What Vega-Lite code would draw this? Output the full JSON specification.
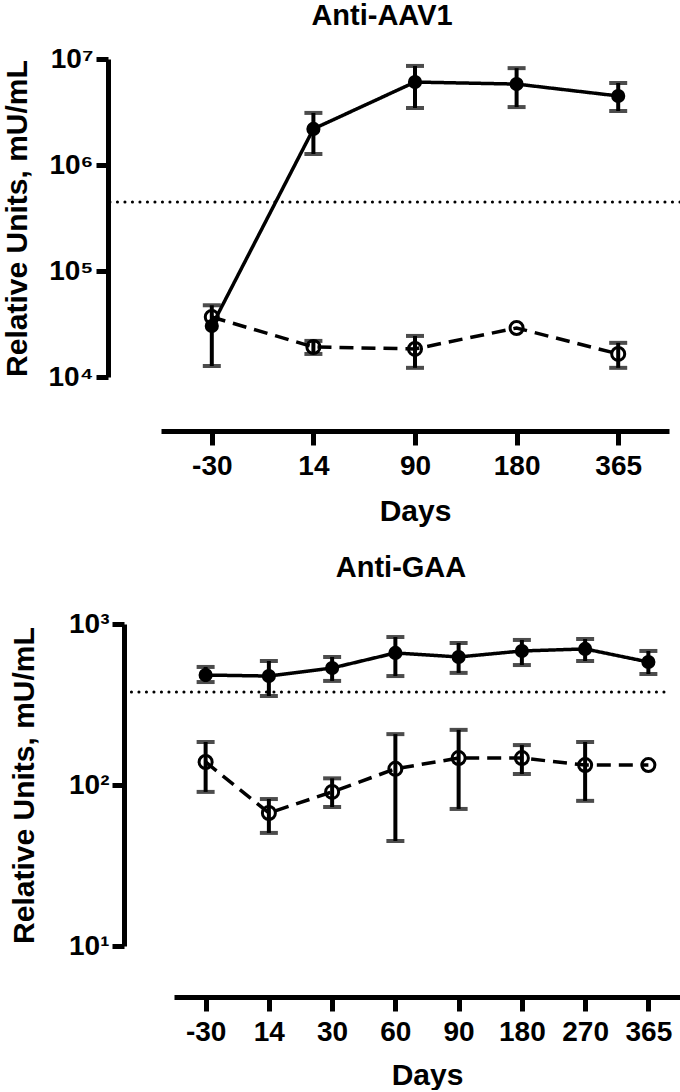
{
  "$schema": "https://vega.github.io/schema/vega-lite/v6.json",
  "padding": {"left": 2, "top": 2, "right": 0, "bottom": 0},
  "background": "white",
  "spacing": 247,
  "bounds": "flush",
  "center": true,
  "config": {
    "view": {"stroke": null},
    "font": "Liberation Sans",
    "axis": {
      "domainColor": "black", "tickColor": "black", "labelColor": "black", "titleColor": "black",
      "domainWidth": 5, "tickWidth": 5, "grid": false,
      "labelFont": "Liberation Sans", "labelFontWeight": "bold", "labelFontSize": 28,
      "titleFont": "Liberation Sans", "titleFontWeight": "bold", "titleFontSize": 30
    },
    "title": {"font": "Liberation Sans", "fontWeight": "bold", "fontSize": 29, "color": "black"}
  },
  "vconcat": [
    {
      "title": {"text": "Anti-AAV1", "offset": 14, "dx": -12},
      "width": 572,
      "height": 318,
      "data": {"values": [
        {"day": "-30", "group": "Group 1", "mean": 30300, "lo": 12700, "hi": 47500},
        {"day": "14", "group": "Group 1", "mean": 2190000, "lo": 1270000, "hi": 3100000},
        {"day": "90", "group": "Group 1", "mean": 6060000, "lo": 3450000, "hi": 8600000},
        {"day": "180", "group": "Group 1", "mean": 5800000, "lo": 3520000, "hi": 8200000},
        {"day": "365", "group": "Group 1", "mean": 4480000, "lo": 3230000, "hi": 5940000},
        {"day": "-30", "group": "Group 2", "mean": 36800, "lo": null, "hi": null},
        {"day": "14", "group": "Group 2", "mean": 19200, "lo": 16500, "hi": 21900},
        {"day": "90", "group": "Group 2", "mean": 18400, "lo": 12200, "hi": 24400},
        {"day": "180", "group": "Group 2", "mean": 29000, "lo": null, "hi": null},
        {"day": "365", "group": "Group 2", "mean": 16500, "lo": 12200, "hi": 21000}
      ]},
      "encoding": {
        "x": {
          "field": "day", "type": "ordinal",
          "scale": {"type": "point", "domain": ["-30", "14", "90", "180", "365"], "range": [53, 561]},
          "axis": {"title": "Days", "labelAngle": 0, "offset": 54, "tickSize": 14, "labelPadding": 7, "titlePadding": 16}
        }
      },
      "layer": [
        {
          "data": {"values": [{"threshold": 448000}]},
          "mark": {"type": "rule", "strokeDash": [0.1, 7.4], "strokeCap": "round", "strokeWidth": 3, "color": "black"},
          "encoding": {"x": null, "y": {"field": "threshold", "type": "quantitative", "scale": {"type": "log", "domain": [10000, 10000000]},
            "axis": {"title": "Relative Units, mU/mL", "values": [10000, 100000, 1000000, 10000000], "tickSize": 12, "labelPadding": 3, "titlePadding": 16,
              "labelExpr": "datum.value > 5000000 ? '10⁷' : datum.value > 500000 ? '10⁶' : datum.value > 50000 ? '10⁵' : '10⁴'"}}}
        },
        {
          "transform": [{"filter": "datum.lo != null"}],
          "mark": {"type": "rule", "strokeWidth": 4, "color": "black"},
          "encoding": {
            "y": {"field": "lo", "type": "quantitative", "scale": {"type": "log", "domain": [10000, 10000000]},
              "axis": {"title": "Relative Units, mU/mL", "values": [10000, 100000, 1000000, 10000000], "tickSize": 12, "labelPadding": 3, "titlePadding": 16,
                "labelExpr": "datum.value > 5000000 ? '10⁷' : datum.value > 500000 ? '10⁶' : datum.value > 50000 ? '10⁵' : '10⁴'"}},
            "y2": {"field": "hi"}
          }
        },
        {
          "transform": [{"filter": "datum.lo != null"}],
          "mark": {"type": "tick", "size": 18, "thickness": 4, "color": "black", "orient": "horizontal"},
          "encoding": {"y": {"field": "lo", "type": "quantitative",
            "axis": {"title": "Relative Units, mU/mL", "values": [10000, 100000, 1000000, 10000000], "tickSize": 12, "labelPadding": 3, "titlePadding": 16,
              "labelExpr": "datum.value > 5000000 ? '10⁷' : datum.value > 500000 ? '10⁶' : datum.value > 50000 ? '10⁵' : '10⁴'"}}}
        },
        {
          "transform": [{"filter": "datum.hi != null"}],
          "mark": {"type": "tick", "size": 18, "thickness": 4, "color": "black", "orient": "horizontal"},
          "encoding": {"y": {"field": "hi", "type": "quantitative",
            "axis": {"title": "Relative Units, mU/mL", "values": [10000, 100000, 1000000, 10000000], "tickSize": 12, "labelPadding": 3, "titlePadding": 16,
              "labelExpr": "datum.value > 5000000 ? '10⁷' : datum.value > 500000 ? '10⁶' : datum.value > 50000 ? '10⁵' : '10⁴'"}}}
        },
        {
          "mark": {"type": "line", "strokeWidth": 3.5, "color": "black"},
          "encoding": {
            "y": {"field": "mean", "type": "quantitative",
              "axis": {"title": "Relative Units, mU/mL", "values": [10000, 100000, 1000000, 10000000], "tickSize": 12, "labelPadding": 3, "titlePadding": 16,
                "labelExpr": "datum.value > 5000000 ? '10⁷' : datum.value > 500000 ? '10⁶' : datum.value > 50000 ? '10⁵' : '10⁴'"}},
            "strokeDash": {"field": "group", "type": "nominal", "scale": {"domain": ["Group 1", "Group 2"], "range": [[1, 0], [14, 8]]}, "legend": null}
          }
        },
        {
          "transform": [{"filter": "datum.group == 'Group 1'"}],
          "mark": {"type": "point", "shape": "circle", "filled": true, "size": 200, "color": "black", "opacity": 1},
          "encoding": {"y": {"field": "mean", "type": "quantitative",
            "axis": {"title": "Relative Units, mU/mL", "values": [10000, 100000, 1000000, 10000000], "tickSize": 12, "labelPadding": 3, "titlePadding": 16,
              "labelExpr": "datum.value > 5000000 ? '10⁷' : datum.value > 500000 ? '10⁶' : datum.value > 50000 ? '10⁵' : '10⁴'"}}}
        },
        {
          "transform": [{"filter": "datum.group == 'Group 2'"}],
          "mark": {"type": "point", "shape": "circle", "filled": false, "size": 170, "strokeWidth": 3, "color": "black", "opacity": 1},
          "encoding": {"y": {"field": "mean", "type": "quantitative",
            "axis": {"title": "Relative Units, mU/mL", "values": [10000, 100000, 1000000, 10000000], "tickSize": 12, "labelPadding": 3, "titlePadding": 16,
              "labelExpr": "datum.value > 5000000 ? '10⁷' : datum.value > 500000 ? '10⁶' : datum.value > 50000 ? '10⁵' : '10⁴'"}}}
        }
      ]
    },
    {
      "title": {"text": "Anti-GAA", "offset": 27, "dx": 7},
      "width": 540,
      "height": 322,
      "data": {"values": [
        {"day": "-30", "group": "Group 1", "mean": 482, "lo": 436, "hi": 541},
        {"day": "14", "group": "Group 1", "mean": 475, "lo": 357, "hi": 589},
        {"day": "30", "group": "Group 1", "mean": 533, "lo": 443, "hi": 624},
        {"day": "60", "group": "Group 1", "mean": 661, "lo": 475, "hi": 830},
        {"day": "90", "group": "Group 1", "mean": 624, "lo": 497, "hi": 762},
        {"day": "180", "group": "Group 1", "mean": 680, "lo": 556, "hi": 796},
        {"day": "270", "group": "Group 1", "mean": 700, "lo": 589, "hi": 807},
        {"day": "365", "group": "Group 1", "mean": 581, "lo": 489, "hi": 680},
        {"day": "-30", "group": "Group 2", "mean": 139, "lo": 90.6, "hi": 185},
        {"day": "14", "group": "Group 2", "mean": 67, "lo": 50.4, "hi": 81.8},
        {"day": "30", "group": "Group 2", "mean": 90.6, "lo": 73, "hi": 110},
        {"day": "60", "group": "Group 2", "mean": 126, "lo": 44.9, "hi": 207},
        {"day": "90", "group": "Group 2", "mean": 147, "lo": 71, "hi": 220},
        {"day": "180", "group": "Group 2", "mean": 147, "lo": 117, "hi": 177},
        {"day": "270", "group": "Group 2", "mean": 133, "lo": 79.7, "hi": 185},
        {"day": "365", "group": "Group 2", "mean": 133, "lo": null, "hi": null}
      ]},
      "encoding": {
        "x": {
          "field": "day", "type": "ordinal",
          "scale": {"type": "point", "domain": ["-30", "14", "30", "60", "90", "180", "270", "365"], "range": [50, 556]},
          "axis": {"title": "Days", "labelAngle": 0, "offset": 51, "tickSize": 14, "labelPadding": 7, "titlePadding": 14}
        }
      },
      "layer": [
        {
          "data": {"values": [{"threshold": 378}]},
          "mark": {"type": "rule", "strokeDash": [0.1, 7.4], "strokeCap": "round", "strokeWidth": 3, "color": "black"},
          "encoding": {"x": null, "y": {"field": "threshold", "type": "quantitative", "scale": {"type": "log", "domain": [10, 1000]},
            "axis": {"title": "Relative Units, mU/mL", "values": [10, 100, 1000], "tickSize": 12, "labelPadding": 3, "titlePadding": 29,
              "labelExpr": "datum.value > 500 ? '10³' : datum.value > 50 ? '10²' : '10¹'"}}}
        },
        {
          "transform": [{"filter": "datum.lo != null"}],
          "mark": {"type": "rule", "strokeWidth": 4, "color": "black"},
          "encoding": {
            "y": {"field": "lo", "type": "quantitative", "scale": {"type": "log", "domain": [10, 1000]},
              "axis": {"title": "Relative Units, mU/mL", "values": [10, 100, 1000], "tickSize": 12, "labelPadding": 3, "titlePadding": 29,
                "labelExpr": "datum.value > 500 ? '10³' : datum.value > 50 ? '10²' : '10¹'"}},
            "y2": {"field": "hi"}
          }
        },
        {
          "transform": [{"filter": "datum.lo != null"}],
          "mark": {"type": "tick", "size": 18, "thickness": 4, "color": "black", "orient": "horizontal"},
          "encoding": {"y": {"field": "lo", "type": "quantitative",
            "axis": {"title": "Relative Units, mU/mL", "values": [10, 100, 1000], "tickSize": 12, "labelPadding": 3, "titlePadding": 29,
              "labelExpr": "datum.value > 500 ? '10³' : datum.value > 50 ? '10²' : '10¹'"}}}
        },
        {
          "transform": [{"filter": "datum.hi != null"}],
          "mark": {"type": "tick", "size": 18, "thickness": 4, "color": "black", "orient": "horizontal"},
          "encoding": {"y": {"field": "hi", "type": "quantitative",
            "axis": {"title": "Relative Units, mU/mL", "values": [10, 100, 1000], "tickSize": 12, "labelPadding": 3, "titlePadding": 29,
              "labelExpr": "datum.value > 500 ? '10³' : datum.value > 50 ? '10²' : '10¹'"}}}
        },
        {
          "mark": {"type": "line", "strokeWidth": 3.5, "color": "black"},
          "encoding": {
            "y": {"field": "mean", "type": "quantitative",
              "axis": {"title": "Relative Units, mU/mL", "values": [10, 100, 1000], "tickSize": 12, "labelPadding": 3, "titlePadding": 29,
                "labelExpr": "datum.value > 500 ? '10³' : datum.value > 50 ? '10²' : '10¹'"}},
            "strokeDash": {"field": "group", "type": "nominal", "scale": {"domain": ["Group 1", "Group 2"], "range": [[1, 0], [14, 8]]}, "legend": null}
          }
        },
        {
          "transform": [{"filter": "datum.group == 'Group 1'"}],
          "mark": {"type": "point", "shape": "circle", "filled": true, "size": 200, "color": "black", "opacity": 1},
          "encoding": {"y": {"field": "mean", "type": "quantitative",
            "axis": {"title": "Relative Units, mU/mL", "values": [10, 100, 1000], "tickSize": 12, "labelPadding": 3, "titlePadding": 29,
              "labelExpr": "datum.value > 500 ? '10³' : datum.value > 50 ? '10²' : '10¹'"}}}
        },
        {
          "transform": [{"filter": "datum.group == 'Group 2'"}],
          "mark": {"type": "point", "shape": "circle", "filled": false, "size": 170, "strokeWidth": 3, "color": "black", "opacity": 1},
          "encoding": {"y": {"field": "mean", "type": "quantitative",
            "axis": {"title": "Relative Units, mU/mL", "values": [10, 100, 1000], "tickSize": 12, "labelPadding": 3, "titlePadding": 29,
              "labelExpr": "datum.value > 500 ? '10³' : datum.value > 50 ? '10²' : '10¹'"}}}
        }
      ]
    }
  ]
}
